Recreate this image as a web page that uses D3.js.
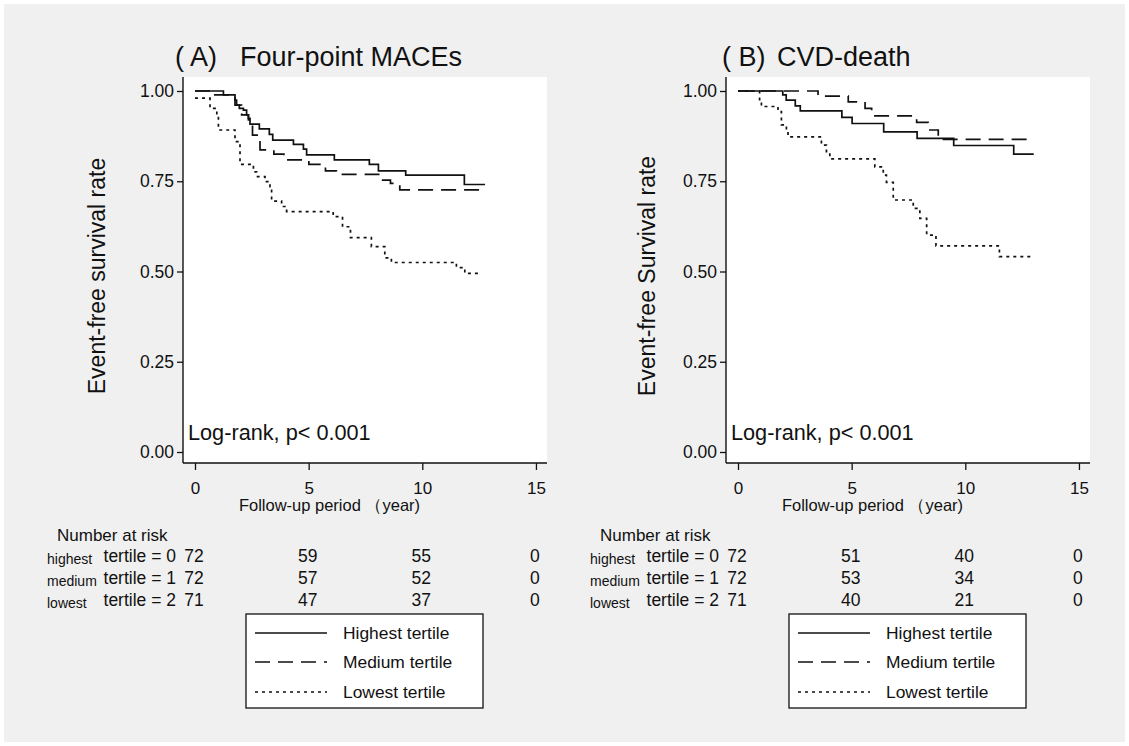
<!DOCTYPE html>
<html>
<head>
<meta charset="utf-8">
<script src="https://cdn.jsdelivr.net/npm/d3@7"></script>
<style>
  body { margin: 0; background: #fff; }
  svg { display: block; font-family: "Liberation Sans", Arial, sans-serif; }
</style>
</head>
<body>
<svg id="chart"></svg>
<script>
// ---- data ----
var xTicks = [0, 5, 10, 15];
var yTicks = [0, 0.25, 0.5, 0.75, 1];
var riskTimes = [0, 5, 10, 15];
var groupNames = ["highest", "medium", "lowest"];
var groupCodes = ["tertile = 0", "tertile = 1", "tertile = 2"];
var legendLabels = ["Highest tertile", "Medium tertile", "Lowest tertile"];

// panel A, four-point MACEs
var timeA_high = [0, 1.25, 1.76, 1.83, 1.95, 2.13, 2.27, 2.35, 2.42, 2.83, 3.27, 3.42, 4.33, 4.77, 4.91, 6.13, 7.67, 8.07, 9.27, 11.85, 12.76];
var survA_high = [1, 0.989, 0.975, 0.961, 0.952, 0.947, 0.934, 0.924, 0.908, 0.895, 0.880, 0.864, 0.852, 0.839, 0.823, 0.809, 0.797, 0.779, 0.767, 0.741, 0.741];
var timeA_med = [0, 0.76, 1.76, 2.05, 2.35, 2.53, 2.86, 3.47, 3.91, 5.01, 5.74, 6.22, 8.08, 8.60, 9.01, 12.76];
var survA_med = [1, 0.989, 0.961, 0.934, 0.920, 0.878, 0.837, 0.825, 0.809, 0.797, 0.779, 0.769, 0.753, 0.744, 0.726, 0.726];
var timeA_low = [0, 0.66, 0.96, 1.03, 1.76, 1.98, 2.57, 2.71, 3.08, 3.30, 3.37, 3.81, 4.03, 6.08, 6.49, 6.84, 7.76, 8.35, 8.64, 11.50, 11.87, 12.54];
var survA_low = [0.980, 0.952, 0.934, 0.892, 0.860, 0.797, 0.776, 0.763, 0.749, 0.735, 0.695, 0.680, 0.666, 0.652, 0.624, 0.594, 0.569, 0.538, 0.525, 0.511, 0.495, 0.495];
var riskA_high = [72, 59, 55, 0];
var riskA_med = [72, 57, 52, 0];
var riskA_low = [71, 47, 37, 0];

// panel B, CVD-death
var timeB_high = [0, 1.97, 2.12, 2.52, 2.74, 4.57, 5.02, 6.41, 7.88, 9.49, 12.13, 13.01];
var survB_high = [1, 0.989, 0.975, 0.959, 0.945, 0.927, 0.910, 0.887, 0.869, 0.849, 0.825, 0.825];
var timeB_med = [0, 3.52, 4.85, 5.59, 5.88, 7.86, 8.37, 8.81, 13.01];
var survB_med = [1, 0.986, 0.970, 0.952, 0.931, 0.913, 0.892, 0.866, 0.866];
var timeB_low = [0, 0.95, 1.03, 1.76, 1.91, 2.13, 2.20, 3.67, 3.89, 4.04, 6.02, 6.39, 6.53, 6.83, 7.71, 8.00, 8.30, 8.71, 11.50, 13.01];
var survB_low = [1, 0.970, 0.957, 0.943, 0.906, 0.889, 0.873, 0.850, 0.832, 0.812, 0.790, 0.767, 0.747, 0.698, 0.675, 0.647, 0.601, 0.571, 0.541, 0.541];
var riskB_high = [72, 51, 40, 0];
var riskB_med = [72, 53, 34, 0];
var riskB_low = [71, 40, 21, 0];

var width = 1129, height = 746;
var dashes = [null, "15,8", "3,4"];
var ink = "#111";

var svg = d3.select("#chart").attr("width", width).attr("height", height);

svg.append("rect")
    .attr("x", 4).attr("y", 4)
    .attr("width", width - 8).attr("height", height - 8)
    .attr("fill", "#f0f0f0");

var panels = [
  { left: 183, right: 547, x0: 195, label: "( A)", labelX: 175, title: "Four-point MACEs", titleX: 240,
    ytitle: "Event-free survival rate", ytitleX: 97,
    times: [timeA_high, timeA_med, timeA_low], surv: [survA_high, survA_med, survA_low],
    risk: [riskA_high, riskA_med, riskA_low] },
  { left: 726, right: 1090, x0: 738, label: "( B)", labelX: 722, title: "CVD-death", titleX: 777,
    ytitle: "Event-free Survival rate", ytitleX: 647,
    times: [timeB_high, timeB_med, timeB_low], surv: [survB_high, survB_med, survB_low],
    risk: [riskB_high, riskB_med, riskB_low] }
];

panels.forEach(function(p) {
    var top = 77, bottom = 463;
    var x = d3.scaleLinear().domain([0, 15]).range([p.x0, p.x0 + 15 * 22.73]);
    var y = d3.scaleLinear().domain([0, 1]).range([452, 91]);

    var g = svg.append("g");

    g.append("rect")
        .attr("x", p.left).attr("y", top)
        .attr("width", p.right - p.left).attr("height", bottom - top)
        .attr("fill", "#fff");

    // axes
    var yAxis = g.append("g")
        .attr("transform", "translate(" + p.left + ",0)")
        .call(d3.axisLeft(y).tickValues(yTicks).tickSize(6).tickPadding(3).tickFormat(d3.format(".2f")));
    yAxis.select(".domain").remove();
    yAxis.selectAll("line").attr("stroke", ink).attr("stroke-width", 1.3);
    yAxis.selectAll("text").attr("font-size", 17.5).attr("fill", ink);

    var xAxis = g.append("g")
        .attr("transform", "translate(0," + bottom + ")")
        .call(d3.axisBottom(x).tickValues(xTicks).tickSize(7).tickPadding(12).tickFormat(d3.format("d")));
    xAxis.select(".domain").remove();
    xAxis.selectAll("line").attr("stroke", ink).attr("stroke-width", 1.3);
    xAxis.selectAll("text").attr("font-size", 17).attr("fill", ink);

    g.append("line")
        .attr("x1", p.left).attr("x2", p.left)
        .attr("y1", top).attr("y2", bottom)
        .attr("stroke", ink).attr("stroke-width", 1.4);
    g.append("line")
        .attr("x1", p.left).attr("x2", p.right)
        .attr("y1", bottom).attr("y2", bottom)
        .attr("stroke", ink).attr("stroke-width", 1.4);

    // survival curves
    var line = d3.line()
        .x(function(d) { return x(d[0]); })
        .y(function(d) { return y(d[1]); })
        .curve(d3.curveStepAfter);

    p.times.forEach(function(ts, i) {
        var pts = ts.map(function(t, j) { return [t, p.surv[i][j]]; });
        g.append("path")
            .attr("d", line(pts))
            .attr("fill", "none")
            .attr("stroke", ink)
            .attr("stroke-width", 1.7)
            .attr("stroke-dasharray", dashes[i]);
    });

    // titles
    g.append("text").attr("x", p.labelX).attr("y", 66)
        .attr("font-size", 27).attr("fill", ink).text(p.label);
    g.append("text").attr("x", p.titleX).attr("y", 66)
        .attr("font-size", 27).attr("fill", ink).text(p.title);

    g.append("text")
        .attr("transform", "translate(" + p.ytitleX + ",276) rotate(-90)")
        .attr("text-anchor", "middle").attr("dy", "0.35em")
        .attr("font-size", 23).attr("fill", ink).text(p.ytitle);

    g.append("text")
        .attr("x", (x(0) + x(15)) / 2 - 36).attr("y", 511)
        .attr("text-anchor", "middle")
        .attr("font-size", 16.5).attr("fill", ink)
        .text("Follow-up period （year)");

    g.append("text")
        .attr("x", p.left + 5).attr("y", 440)
        .attr("font-size", 21.7).attr("fill", ink)
        .text("Log-rank, p< 0.001");

    // number at risk
    g.append("text")
        .attr("x", x(0) - 138).attr("y", 541)
        .attr("font-size", 17).attr("fill", ink)
        .text("Number at risk");

    var rowY = [562, 584, 606];
    groupNames.forEach(function(name, i) {
        g.append("text")
            .attr("x", x(0) - 148).attr("y", rowY[i] + 2)
            .attr("font-size", 14).attr("fill", ink)
            .text(name);
        g.append("text")
            .attr("x", x(0) - 19).attr("y", rowY[i])
            .attr("text-anchor", "end")
            .attr("font-size", 17.5).attr("fill", ink)
            .text(groupCodes[i]);
        g.selectAll(null)
            .data(riskTimes)
            .enter().append("text")
            .attr("x", function(t) { return x(t) - 1; })
            .attr("y", rowY[i])
            .attr("text-anchor", "middle")
            .attr("font-size", 17.5).attr("fill", ink)
            .text(function(t, j) { return p.risk[i][j]; });
    });

    // legend
    var lx = x(0) + 51;
    g.append("rect")
        .attr("x", lx).attr("y", 614)
        .attr("width", 237).attr("height", 94)
        .attr("fill", "#fff").attr("stroke", ink).attr("stroke-width", 1.3);
    var legY = [633, 662, 692];
    legendLabels.forEach(function(lab, i) {
        g.append("line")
            .attr("x1", lx + 9).attr("x2", lx + 81)
            .attr("y1", legY[i]).attr("y2", legY[i])
            .attr("stroke", ink).attr("stroke-width", 1.4)
            .attr("stroke-dasharray", dashes[i]);
        g.append("text")
            .attr("x", lx + 97).attr("y", legY[i]).attr("dy", "0.35em")
            .attr("font-size", 17.4).attr("fill", ink)
            .text(lab);
    });
});
</script>
</body>
</html>
